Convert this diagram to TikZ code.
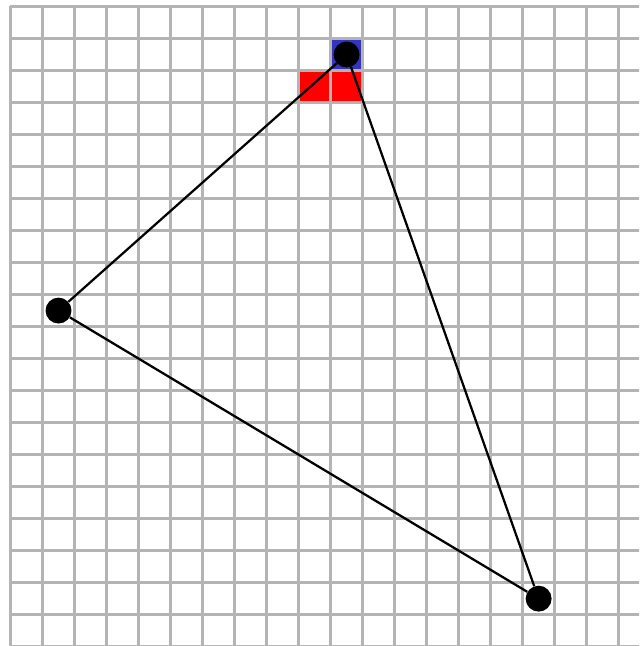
\documentclass[tikz,border=0pt]{standalone}
\usepackage{tikz}
\usetikzlibrary{calc}
\usepackage{xcolor}

\definecolor{gridgray}{RGB}{180,180,180}
\definecolor{cellblue}{RGB}{52,52,190}

\begin{document}
\begin{tikzpicture}[x = 0.8cm, y = -0.8cm]
  \tikzset{vertex/.style = {circle, fill = black, inner sep = 0pt, minimum size = 0.81*0.8cm},
           edge/.style = {line width = 1.6pt}}

  \useasboundingbox (-0.328,-0.203) rectangle (19.64,19.98);
  \clip (-0.328,-0.203) rectangle (19.64,19.98);

  % marked cells
  \fill[cellblue] (10,1) rectangle (11,2);
  \fill[red] (9,2) rectangle (11,3);

  \draw[gridgray, line width = 1.8pt, step = 0.8cm] (0,0) grid (20,21);

  \node[vertex] (top) at (10.5,1.5) {};
  \node[vertex] (left) at (1.5,9.5) {};
  \node[vertex] (right) at (16.5,18.5) {};

  \draw[edge] (top) -- (left) -- (right) -- (top);
\end{tikzpicture}
\end{document}
